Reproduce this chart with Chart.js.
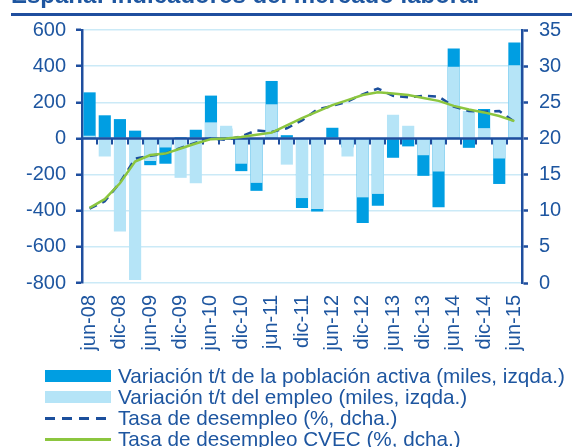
<!DOCTYPE html>
<html><head><meta charset="utf-8">
<script src="https://cdn.jsdelivr.net/npm/chart.js@4"></script>
<style>
html,body{margin:0;padding:0;background:#fff;overflow:hidden;}
#wrap{position:relative;width:572px;height:447px;overflow:hidden;font-family:"Liberation Sans",Arial,sans-serif;color:#1E56A0;}
#title{position:absolute;left:11px;top:-17px;font-size:24px;font-weight:bold;line-height:24px;white-space:nowrap;color:#1E56A0;}
#rule{position:absolute;left:11px;right:0;top:13px;height:3px;background:#1F4E9E;}
canvas{position:absolute;left:0;top:0;}
.row{position:absolute;left:0;height:22px;line-height:22px;font-size:20.7px;white-space:nowrap;}
.sw{position:absolute;left:45px;width:66px;}
.lbl{position:absolute;left:118px;top:0;}
</style></head>
<body>
<div id="wrap">
<canvas id="c" width="572" height="447"></canvas>
<div id="title">España: indicadores del mercado laboral</div>
<div id="rule"></div>
<div class="row" style="top:365px"><div class="sw" style="top:5px;height:12px;background:#009EE2"></div><span class="lbl">Variación t/t de la población activa (miles, izqda.)</span></div>
<div class="row" style="top:386px"><div class="sw" style="top:5px;height:12px;background:#B5E4F7"></div><span class="lbl">Variación t/t del empleo (miles, izqda.)</span></div>
<div class="row" style="top:407px"><div class="sw" style="top:10px;height:3px;background:repeating-linear-gradient(to right,#1C4F9C 0 10px,transparent 10px 17px)"></div><span class="lbl">Tasa de desempleo (%, dcha.)</span></div>
<div class="row" style="top:428px"><div class="sw" style="top:10px;height:3px;background:#8CC63F"></div><span class="lbl">Tasa de desempleo CVEC (%, dcha.)</span></div>
</div>
<script>
const categories = ['jun-08','sep-08','dic-08','mar-09','jun-09','sep-09','dic-09','mar-10','jun-10','sep-10','dic-10','mar-11','jun-11','sep-11','dic-11','mar-12','jun-12','sep-12','dic-12','mar-13','jun-13','sep-13','dic-13','mar-14','jun-14','sep-14','dic-14','mar-15','jun-15'];
const activeVar = [255, 128, 107, 43, -148, -140, 8, 48, 237, 55, -181, -290, 318, 18, -385, -405, 59, -50, -468, -372, -107, -44, -207, -381, 498, -52, 163, -252, 531];
const employVar = [15, -100, -515, -783, -125, -50, -218, -248, 89, 70, -140, -246, 189, -145, -330, -390, 2, -100, -326, -307, 131, 70, -93, -183, 396, 152, 57, -111, 405];
const unempRate = [10.3, 11.3, 13.9, 17.2, 17.6, 17.9, 18.7, 19.4, 20.0, 19.8, 20.3, 21.1, 20.9, 21.4, 22.5, 24.0, 24.5, 25.1, 26.1, 26.9, 25.9, 25.7, 25.9, 25.8, 24.4, 23.8, 23.7, 23.8, 22.3];
const unempRateSA = [10.4, 11.6, 13.8, 16.8, 17.7, 17.9, 18.6, 19.3, 19.9, 20.0, 20.2, 20.5, 20.8, 21.8, 22.8, 23.7, 24.6, 25.3, 26.0, 26.4, 26.2, 26.0, 25.6, 25.2, 24.5, 24.0, 23.6, 23.1, 22.4];
const leftMin = -800, leftMax = 600, leftStep = 200;
const rightMin = 0, rightMax = 35, rightStep = 5;

const DARK = '#1F4E9E', TXT = '#1E56A0', GRID = '#CBEAF7';
const FONT = {family:'"Liberation Sans", Arial, sans-serif', size:20};

const zeroLine = {
  id:'zeroLine',
  afterDatasetDraw(chart, args){
    if(args.index !== 1) return;
    const {ctx, chartArea} = chart;
    const y = chart.scales.y.getPixelForValue(0);
    const xs = chart.scales.x;
    const n = categories.length;
    const w = (chartArea.right - chartArea.left) / n;
    ctx.save();
    ctx.strokeStyle = DARK;
    ctx.lineWidth = 2.5;
    ctx.beginPath(); ctx.moveTo(chartArea.left, y); ctx.lineTo(chartArea.right, y); ctx.stroke();
    ctx.lineWidth = 2;
    ctx.beginPath();
    for(let i=1;i<n;i++){ const x = Math.round(xs.getPixelForValue(i) - w/2); ctx.moveTo(x, y); ctx.lineTo(x, y+6); }
    ctx.stroke();
    ctx.restore();
  }
};

new Chart(document.getElementById('c'), {
  data:{
    labels: categories,
    datasets:[
      {type:'bar', label:'Variación t/t de la población activa (miles, izqda.)', data:activeVar, backgroundColor:'#009EE2', yAxisID:'y', order:3, grouped:false, barPercentage:0.8, categoryPercentage:1},
      {type:'bar', label:'Variación t/t del empleo (miles, izqda.)', data:employVar, backgroundColor:'#B5E4F7', yAxisID:'y', order:2, grouped:false, barPercentage:0.8, categoryPercentage:1},
      {type:'line', label:'Tasa de desempleo (%, dcha.)', data:unempRate, borderColor:'#1C4F9C', borderWidth:2.5, borderDash:[8,6], pointRadius:0, tension:0, fill:false, yAxisID:'y1', order:1},
      {type:'line', label:'Tasa de desempleo CVEC (%, dcha.)', data:unempRateSA, borderColor:'#8CC63F', borderWidth:2.5, pointRadius:0, tension:0, fill:false, yAxisID:'y1', order:0}
    ]
  },
  options:{
    responsive:false, animation:false, devicePixelRatio:1,
    layout:{padding:{top:30,left:0,right:0,bottom:0}},
    plugins:{legend:{display:false}, tooltip:{enabled:false}},
    scales:{
      x:{offset:true, grid:{display:false, drawTicks:false}, border:{display:false},
         ticks:{autoSkip:false, maxRotation:90, minRotation:90, padding:12, color:TXT, font:FONT,
                callback:function(v,i){ return i%2===0 ? categories[i] : ''; }},
         afterFit(s){ s.height = 164; }},
      y:{position:'left', min:leftMin, max:leftMax,
         ticks:{stepSize:leftStep, color:TXT, font:FONT, padding:10},
         grid:{color:GRID, lineWidth:1.5, tickColor:DARK, tickLength:6, tickWidth:2.5},
         border:{color:DARK, width:2.5},
         afterFit(s){ s.width = 82; }},
      y1:{position:'right', min:rightMin, max:rightMax,
         ticks:{stepSize:rightStep, color:TXT, font:FONT, padding:11},
         grid:{drawOnChartArea:false, tickColor:DARK, tickLength:6, tickWidth:2.5},
         border:{color:DARK, width:2.5},
         afterFit(s){ s.width = 50; }}
    }
  },
  plugins:[zeroLine]
});
</script>
</body></html>
